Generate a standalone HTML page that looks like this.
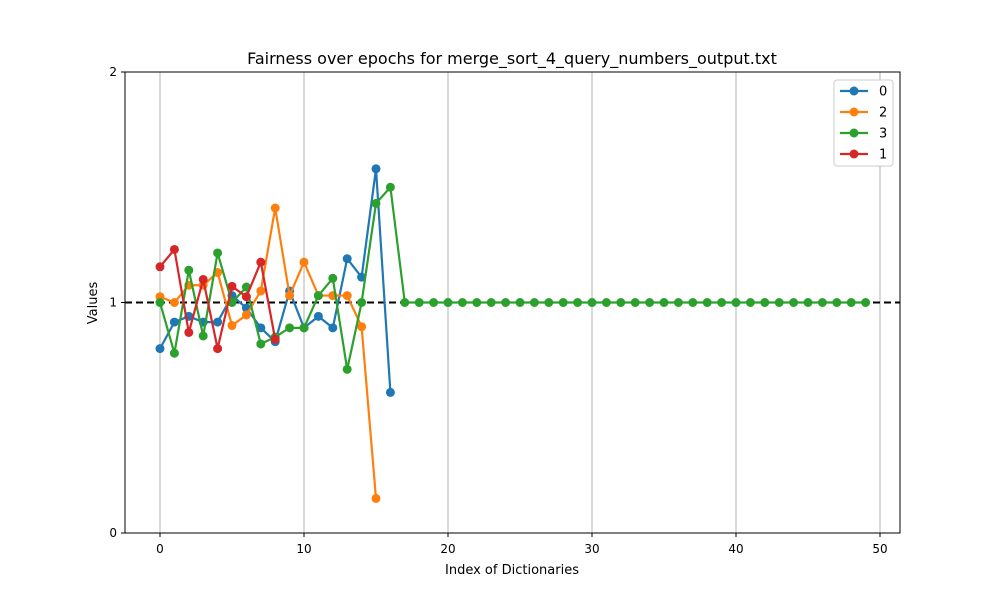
<!DOCTYPE html>
<html><head><meta charset="utf-8"><style>
body{margin:0;background:#fff;font-family:"Liberation Sans","DejaVu Sans",sans-serif}
svg text{font-family:"DejaVu Sans","Liberation Sans",sans-serif}
</style></head><body>
<svg id="chart" width="1000" height="600" xmlns="http://www.w3.org/2000/svg">
<rect width="1000" height="600" fill="#fff"/>
<text x="512" y="64" text-anchor="middle" font-size="16">Fairness over epochs for merge_sort_4_query_numbers_output.txt</text>
<g id="grid"></g>
<line id="ref" stroke="#000" stroke-width="2" stroke-dasharray="7,4"/>
<g id="series"></g>
<rect x="125" y="72" width="775" height="461" fill="none" stroke="#000" stroke-width="1"/>
<g id="ticks"></g>
<text x="512" y="574" text-anchor="middle" font-size="13">Index of Dictionaries</text>
<text transform="translate(97,303) rotate(-90)" text-anchor="middle" font-size="13">Values</text>
<g id="legend"></g>
</svg>
<script>
const seriesNames=["0","2","3","1"];
const colors=["#1f77b4","#ff7f0e","#2ca02c","#d62728"];
const s0=[0.80,0.915,0.94,0.915,0.915,1.03,0.976,0.89,0.83,1.05,0.89,0.94,0.89,1.19,1.11,1.58,0.61];
const s2=[1.025,1.0,1.075,1.075,1.13,0.9,0.946,1.05,1.41,1.03,1.175,1.03,1.03,1.03,0.895,0.15];
const s3=[1.0,0.78,1.14,0.855,1.215,1.0,1.067,0.82,0.85,0.89,0.89,1.03,1.105,0.71,1.0,1.43,1.5,1,1,1,1,1,1,1,1,1,1,1,1,1,1,1,1,1,1,1,1,1,1,1,1,1,1,1,1,1,1,1,1,1];
const s1=[1.155,1.23,0.87,1.10,0.80,1.07,1.025,1.175,0.84];
const xTicks=[0,10,20,30,40,50];
const yTicks=[0,1,2];
const refValue=1;
const NS="http://www.w3.org/2000/svg";
const X=v=>160+v*14.4, Y=v=>533-v*230.5;
function mk(t,a,p){const e=document.createElementNS(NS,t);for(const k in a)e.setAttribute(k,a[k]);p.appendChild(e);return e;}
const grid=document.getElementById('grid'),ticks=document.getElementById('ticks');
xTicks.forEach(t=>{
 const g=mk('line',{x1:X(t),x2:X(t),y1:72,y2:533,stroke:'#b0b0b0','stroke-width':1},grid);
 
 
 const tk=mk('line',{x1:X(t),x2:X(t),y1:533,y2:537,stroke:'#000'},ticks);
 
 
 const tx=mk('text',{x:X(t),y:553,'text-anchor':'middle','font-size':12},ticks);tx.textContent=t;
 
 
});
yTicks.forEach(t=>{
 const tk=mk('line',{x1:121,x2:125,y1:Y(t),y2:Y(t),stroke:'#000'},ticks);
 
 
 const tx=mk('text',{x:117,y:Y(t)+4,'text-anchor':'end','font-size':12},ticks);tx.textContent=t;
 
 
});
const ref=document.getElementById('ref');
ref.setAttribute('x1',125);ref.setAttribute('x2',900);ref.setAttribute('y1',Y(refValue));ref.setAttribute('y2',Y(refValue));
const data=[s0,s2,s3,s1];
const sg=document.getElementById('series');
data.forEach((d,i)=>{
 const g=mk('g',{},sg);
 
 
 const pl=mk('polyline',{points:d.map((v,j)=>X(j)+','+Y(v)).join(' '),fill:'none',stroke:colors[i],'stroke-width':2.2},g);
 
 
 d.forEach((v,j)=>{const c=mk('circle',{cx:X(j),cy:Y(v),r:4.5,fill:colors[i]},g);
  
  });
});
const lg=document.getElementById('legend');
mk('rect',{x:834,y:80,width:59,height:86,fill:'#fff',stroke:'#ccc',rx:3},lg);
seriesNames.forEach((n,i)=>{
 const y=91+i*21;
 const e=mk('g',{},lg);
 
 
 mk('line',{x1:840,x2:868,y1:y,y2:y,stroke:colors[i],'stroke-width':2.2},e);
 mk('circle',{cx:854,cy:y,r:4.5,fill:colors[i]},e);
 const t=mk('text',{x:879,y:y+4.5,'font-size':13},e);t.textContent=n;
});
</script>
</body></html>
